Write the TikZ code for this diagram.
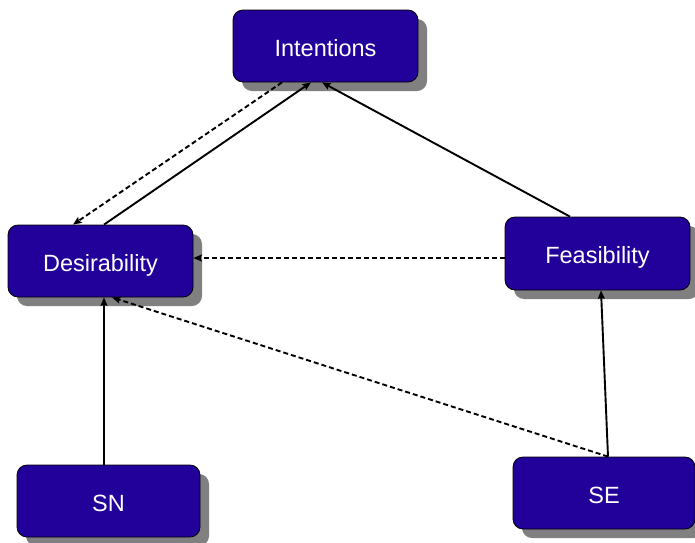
\documentclass[tikz,border=0pt]{standalone}
\usepackage{fontspec}
\setmainfont{Liberation Sans}
\usetikzlibrary{shadows,arrows.meta,calc}
\definecolor{boxblue}{HTML}{22009A}
\definecolor{shadowgray}{HTML}{808080}
\tikzset{
  box/.style={rectangle, rounded corners=10pt, draw=black, line width=0.8pt,
    fill=boxblue, text=white, inner sep=0pt,
    minimum width=185pt, minimum height=72pt,
    text height=22pt, text depth=1.2pt,
    font=\fontsize{23.5}{28}\selectfont,
    drop shadow={shadow xshift=9pt, shadow yshift=-9pt, fill=shadowgray, opacity=1}},
  link/.style={line width=1.9pt, -{Stealth[length=8.5pt,width=7pt,inset=1.5pt]}},
  dlink/.style={link, dash pattern=on 5pt off 3pt}
}
\begin{document}
\begin{tikzpicture}[x=1pt,y=-1pt]
\useasboundingbox (0,0) rectangle (695,542);
\node[box] (I) at (325.5,46) {Intentions};
\node[box] (D) at (100.5,261) {Desirability};
\node[box, minimum height=73pt] (F) at (597.5,253.5) {Feasibility};
\node[box, minimum width=183pt] (SN) at (108.5,501) {SN};
\node[box, minimum width=182pt] (SE) at (604,493) {SE};

% anchor points on the box borders
\coordinate (Ia) at ($(I.south)+(-43.5,0)$);
\coordinate (Ib) at ($(I.south)+(-14.5,0)$);
\coordinate (Ic) at ($(I.south)+(-3.5,0)$);
\coordinate (Da) at ($(D.north)+(-27.5,0)$);
\coordinate (Db) at ($(D.north)+(3.5,0)$);
\coordinate (Dc) at ($(D.south)+(3.5,0)$);
\coordinate (Dd) at ($(D.south)+(11.5,0)$);
\coordinate (De) at ($(D.east)+(0,-3)$);
\coordinate (Fa) at ($(F.north)+(-27.5,0)$);
\coordinate (Fb) at ($(F.west)+(0,4.5)$);
\coordinate (Fc) at ($(F.south)+(3.5,0)$);
\coordinate (SNa) at ($(SN.north)+(-4.5,0)$);
\coordinate (SEa) at ($(SE.north)+(4,0)$);

\draw[dlink] (Ia) -- (Da);
\draw[link] (Db) -- (Ib);
\draw[link] (Fa) -- (Ic);
\draw[dlink] (Fb) -- (De);
\draw[link] (SNa) -- (Dc);
\draw[dlink] (SEa) -- (Dd);
\draw[link] (SEa) -- (Fc);
\end{tikzpicture}
\end{document}
